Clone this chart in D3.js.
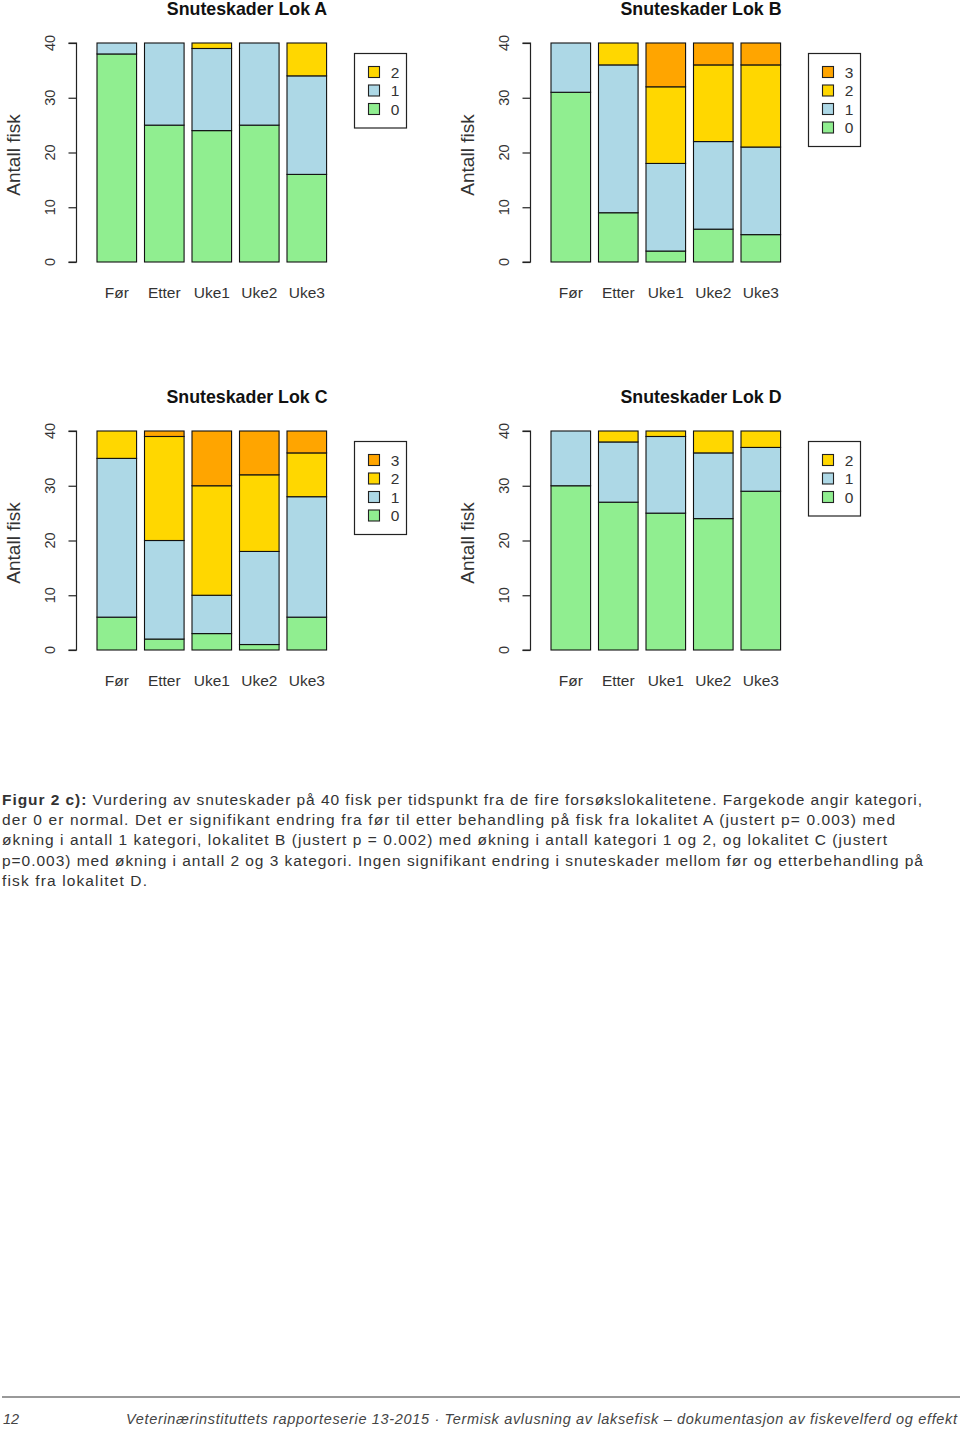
<!DOCTYPE html>
<html><head><meta charset="utf-8">
<script src="https://cdn.jsdelivr.net/npm/d3@7"></script>
<style>body{margin:0;background:#fff}svg{display:block}</style>
</head><body>
<svg id="c" width="960" height="1431"></svg>
<script>
// ---- data ----
const categories = ["Før","Etter","Uke1","Uke2","Uke3"];
const yTicks = [0,10,20,30,40];
const colors = ["#90EE90","#ADD8E6","#FFD700","#FFA500"]; // kategori 0,1,2,3

const lokA0 = [38,25,24,25,16];
const lokA1 = [2,15,15,15,18];
const lokA2 = [0,0,1,0,6];

const lokB0 = [31,9,2,6,5];
const lokB1 = [9,27,16,16,16];
const lokB2 = [0,4,14,14,15];
const lokB3 = [0,0,8,4,4];

const lokC0 = [6,2,3,1,6];
const lokC1 = [29,18,7,17,22];
const lokC2 = [5,19,20,14,8];
const lokC3 = [0,1,10,8,4];

const lokD0 = [30,27,25,24,29];
const lokD1 = [10,11,14,12,8];
const lokD2 = [0,2,1,4,3];

const panels = [
  {title:"Snuteskader Lok A", series:[lokA0,lokA1,lokA2], dx:0, dy:0},
  {title:"Snuteskader Lok B", series:[lokB0,lokB1,lokB2,lokB3], dx:454, dy:0},
  {title:"Snuteskader Lok C", series:[lokC0,lokC1,lokC2,lokC3], dx:0, dy:388},
  {title:"Snuteskader Lok D", series:[lokD0,lokD1,lokD2], dx:454, dy:388}
];

const captionLines = [
  {bold:"Figur 2 c):", text:" Vurdering av snuteskader på 40 fisk per tidspunkt fra de fire forsøkslokalitetene. Fargekode angir kategori,", w:920},
  {bold:"", text:"der 0 er normal. Det er signifikant endring fra før til etter behandling på fisk fra lokalitet A (justert p= 0.003) med", w:893},
  {bold:"", text:"økning i antall 1 kategori,  lokalitet B (justert p = 0.002) med økning i antall kategori 1 og 2, og lokalitet C (justert", w:885},
  {bold:"", text:"p=0.003) med økning i antall 2 og 3 kategori. Ingen signifikant endring i snuteskader mellom før og etterbehandling på", w:921},
  {bold:"", text:"fisk fra lokalitet D.", w:145}
];
const pageNumber = "12";
const footerText = "Veterinærinstituttets rapporteserie 13-2015 · Termisk avlusning av laksefisk – dokumentasjon av fiskevelferd og effekt";

// ---- drawing ----
const svg = d3.select("#c");
const font = "'Liberation Sans', Arial, sans-serif";

panels.forEach(p => {
  const g = svg.append("g").attr("transform", `translate(${p.dx},${p.dy})`);
  const x = d3.scaleBand().domain(categories).range([97, 97 + 47.5*(5 - 1/6)]).paddingInner(1/6).paddingOuter(0);
  const y = d3.scaleLinear().domain([0,40]).range([262, 43]);
  const keys = p.series.map((s,i)=>String(i));
  const rows = categories.map((c,ci)=>{ const o={cat:c}; p.series.forEach((s,i)=>o[i]=s[ci]); return o;});
  const stack = d3.stack().keys(keys)(rows);

  stack.forEach((layer, li) => {
    g.selectAll(null).data(layer.filter(d=>d[1]-d[0]>0)).enter().append("rect")
      .attr("x", d=>x(d.data.cat))
      .attr("width", x.bandwidth())
      .attr("y", d=>y(d[1]))
      .attr("height", d=>y(d[0])-y(d[1]))
      .attr("fill", colors[li])
      .attr("stroke", "#111").attr("stroke-width", 1.1);
  });

  // y axis
  const ax = g.append("g").attr("transform","translate(76.5,0)")
    .call(d3.axisLeft(y).tickValues(yTicks).tickSize(8).tickFormat(""));
  ax.select(".domain").attr("stroke","#222").attr("stroke-width",1.2).attr("d", `M-8,${y(0)}H0V${y(40)}H-8`);
  ax.selectAll(".tick line").attr("stroke","#222").attr("stroke-width",1.2);
  g.selectAll(null).data(yTicks).enter().append("text")
    .attr("transform", d=>`translate(55,${y(d)}) rotate(-90)`)
    .attr("text-anchor","middle").attr("font-family",font).attr("font-size",14.5).attr("fill","#333")
    .text(d=>d);

  // x labels
  g.selectAll(null).data(categories).enter().append("text")
    .attr("x", d=>x(d)+x.bandwidth()/2).attr("y", 297.5)
    .attr("text-anchor","middle").attr("font-family",font).attr("font-size",15.5).attr("fill","#333")
    .text(d=>d);

  // y label
  g.append("text").attr("transform","translate(20,155) rotate(-90)")
    .attr("text-anchor","middle").attr("font-family",font).attr("font-size",19).attr("fill","#333")
    .text("Antall fisk");

  // title
  g.append("text").attr("x",247).attr("y",14.5).attr("text-anchor","middle")
    .attr("font-family",font).attr("font-weight","bold").attr("font-size",17.8).attr("fill","#111")
    .text(p.title);

  // legend
  const n = p.series.length;
  const lg = g.append("g");
  lg.append("rect").attr("x",354.5).attr("y",53.5).attr("width",52).attr("height", 19 + n*18.5)
    .attr("fill","#fff").attr("stroke","#222").attr("stroke-width",1.2);
  const lvls = d3.range(n).reverse();
  lvls.forEach((lv, r) => {
    const cy = 72 + r*18.5;
    lg.append("rect").attr("x",368.5).attr("y",cy-5.5).attr("width",11).attr("height",11)
      .attr("fill",colors[lv]).attr("stroke","#222").attr("stroke-width",1.1);
    lg.append("text").attr("x",395).attr("y",cy+5.5).attr("text-anchor","middle")
      .attr("font-family",font).attr("font-size",15.5).attr("fill","#333").text(lv);
  });
});

// caption
captionLines.forEach((l,i) => {
  const t = svg.append("text").attr("x",2).attr("y",805 + i*20.2)
    .attr("font-family",font).attr("font-size",15.5).attr("fill","#333")
    .attr("textLength", l.w).attr("lengthAdjust","spacing");
  if (l.bold) t.append("tspan").attr("font-weight","bold").text(l.bold);
  t.append("tspan").text(l.text);
});

// footer
svg.append("line").attr("x1",2).attr("x2",960).attr("y1",1397).attr("y2",1397)
  .attr("stroke","#777").attr("stroke-width",1.3);
svg.append("text").attr("x",3).attr("y",1424).attr("font-family",font).attr("font-style","italic")
  .attr("font-size",14.5).attr("fill","#444").text(pageNumber);
svg.append("text").attr("x",126).attr("y",1424).attr("font-family",font).attr("font-style","italic")
  .attr("font-size",14.5).attr("fill","#444").attr("textLength",831).attr("lengthAdjust","spacing")
  .text(footerText);
</script>
</body></html>
